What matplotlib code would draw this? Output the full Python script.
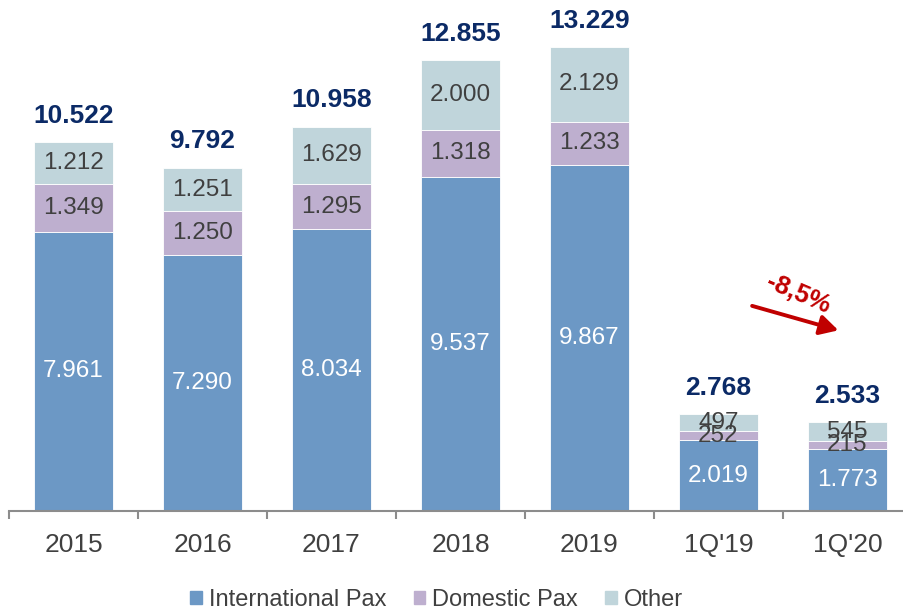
#! /usr/bin/env python

import numpy as np
import matplotlib.pyplot as plt
import matplotlib
from matplotlib.patches import Patch

matplotlib.rcParams['font.family'] = ['Liberation Sans', 'DejaVu Sans']

# data (thousands of pax)
categories = ['2015', '2016', '2017', '2018', '2019', "1Q'19", "1Q'20"]
international = [7961, 7290, 8034, 9537, 9867, 2019, 1773]
domestic = [1349, 1250, 1295, 1318, 1233, 252, 215]
other = [1212, 1251, 1629, 2000, 2129, 497, 545]
totals = [10522, 9792, 10958, 12855, 13229, 2768, 2533]
change_label = '-8,5%'

c_int = '#6C98C5'
c_dom = '#BEAFCF'
c_oth = '#C0D5DB'
c_txt = '#404040'
c_tot = '#0B2A66'

def fmt(v):
    # european thousands separator
    return '{:,}'.format(v).replace(',', '.')

fig = plt.figure(figsize=[9.04, 6.10], dpi=100)
ax = fig.add_axes([9/904, 99/610, 903/904, 491/610])

x = np.arange(len(categories))
width = 0.62
intl = np.array(international)
dom = np.array(domestic)
oth = np.array(other)

ax.bar(x, intl, width, color=c_int, edgecolor='white', linewidth=0.6)
ax.bar(x, dom, width, bottom=intl, color=c_dom, edgecolor='white', linewidth=0.6)
ax.bar(x, oth, width, bottom=intl + dom, color=c_oth, edgecolor='white', linewidth=0.6)

# segment labels
for i in range(len(x)):
    ax.text(x[i], intl[i] / 2, fmt(intl[i]), ha='center', va='center',
            fontsize=17.5, color='white')
    ax.text(x[i], intl[i] + dom[i] / 2, fmt(dom[i]), ha='center', va='center',
            fontsize=17.5, color=c_txt)
    ax.text(x[i], intl[i] + dom[i] + oth[i] / 2, fmt(oth[i]), ha='center', va='center',
            fontsize=17.5, color=c_txt)
    top = intl[i] + dom[i] + oth[i]
    ax.annotate(fmt(totals[i]), (x[i], top), xytext=(0, 19), textcoords='offset points',
                ha='center', va='center', fontsize=19, fontweight='bold', color=c_tot,
                annotation_clip=False)

# change arrow between the two quarters
ax.annotate('', xy=(5.95, 5130), xytext=(5.24, 5870),
            arrowprops=dict(arrowstyle='-|>,head_length=1.1,head_width=0.6',
                            color='#C00000', lw=2.8))
ax.text(5.62, 6200, change_label, rotation=-23, ha='center', va='center',
        fontsize=18.5, fontweight='bold', color='#C00000')

ax.set_xlim(-0.5, len(categories) - 0.5)
ax.set_ylim(0, 14000)
ax.set_yticks([])
for s in ['left', 'right', 'top']:
    ax.spines[s].set_visible(False)
ax.spines['bottom'].set_color('#8C8C8C')
ax.spines['bottom'].set_linewidth(1.5)

ax.set_xticks(x)
ax.set_xticklabels(categories, fontsize=19, color=c_txt)
ax.tick_params(axis='x', which='major', length=0, pad=16)
ax.set_xticks(np.arange(-0.5, len(categories), 1), minor=True)
ax.tick_params(axis='x', which='minor', length=6, width=1.5, color='#8C8C8C')

handles = [Patch(color=c_int), Patch(color=c_dom), Patch(color=c_oth)]
fig.legend(handles, ['International Pax', 'Domestic Pax', 'Other'], loc='center',
           bbox_to_anchor=(0.483, 0.017), ncol=3, frameon=False, fontsize=17,
           handlelength=0.5, handleheight=0.5, handletextpad=0.3,
           columnspacing=1.15, labelcolor=c_txt)

plt.savefig('out.png', dpi=100)
plt.close()
